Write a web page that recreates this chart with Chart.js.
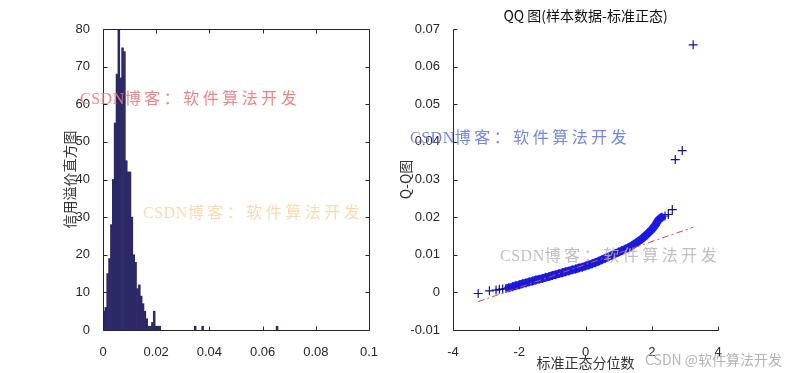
<!DOCTYPE html>
<html lang="zh">
<head>
  <meta charset="UTF-8">
  <title>信用溢价直方图 / QQ 图</title>
  <script src="https://cdn.jsdelivr.net/npm/chart.js"></script>
  <style>
    body { margin: 0; background: #fff; }
    .page { position: relative; width: 795px; height: 373px; overflow: hidden; background: #fff; }
    #histChart { position: absolute; left: 0; top: 0; }
    #qqChart { position: absolute; left: 390px; top: 0; }
    .mark {
      position: absolute;
      white-space: nowrap;
      font: 16px "Noto Sans CJK SC", serif;
      letter-spacing: 3.5px;
      line-height: 16px;
      pointer-events: none;
    }
    .mark span { font-family: "Liberation Serif", serif; letter-spacing: 0.5px; font-size: 16px; }
    .m1 { left: 80px; top: 89px; color: rgba(240, 120, 120, 0.9); }
    .m2 { left: 143px; top: 203px; color: rgba(250, 205, 150, 0.75); }
    .m3 { left: 410px; top: 128px; color: rgba(100, 120, 230, 0.9); }
    .m4 { left: 500px; top: 246px; color: rgba(180, 180, 180, 0.85); }
    .sign {
      position: absolute; left: 645px; top: 349px;
      font: 14px "Noto Sans CJK SC", sans-serif;
      color: #b4b4b4; white-space: nowrap;
    }
  </style>
</head>
<body>
<div class="page">
  <canvas id="histChart" width="390" height="373"></canvas>
  <canvas id="qqChart" width="405" height="373"></canvas>

  <div class="mark m1"><span>CSDN</span>博客：软件算法开发</div>
  <div class="mark m2"><span>CSDN</span>博客：软件算法开发</div>
  <div class="mark m3"><span>CSDN</span>博客：软件算法开发</div>
  <div class="mark m4"><span>CSDN</span>博客：软件算法开发</div>
  <div class="sign">CSDN @软件算法开发</div>
</div>

<script>
  // histogram (bin centres and counts)
  const histBins = [
    0.00035, 0.00105, 0.00175, 0.00245, 0.00315, 0.00385, 0.00455, 0.00525,
    0.00595, 0.00665, 0.00735, 0.00805, 0.00875, 0.00945, 0.01015, 0.01085,
    0.01155, 0.01225, 0.01295, 0.01365, 0.01435, 0.01505, 0.01575, 0.01645,
    0.01715, 0.01785, 0.01855, 0.01925, 0.01995, 0.02065, 0.02135,
    0.03465, 0.03745, 0.06545
  ];
  const histCounts = [
    5, 6, 15, 19, 28, 40, 55, 68,
    80, 67, 75, 74, 45, 42, 42, 30,
    20, 18, 11, 12, 9, 7, 5, 3,
    1, 1, 2, 5, 1, 1, 1,
    1, 1, 1
  ];

  // QQ plot: standard normal quantile vs sample quantile
  const qqTheory = [
    -3.24, -2.90, -2.70, -2.60, -2.50, -2.40, -2.32,
    -2.2, -2.1, -2.0, -1.9, -1.8, -1.7, -1.6, -1.5, -1.4, -1.3, -1.2, -1.1,
    -1.0, -0.9, -0.8, -0.7, -0.6, -0.5, -0.4, -0.3, -0.2, -0.1, 0.0,
    0.1, 0.2, 0.3, 0.4, 0.5, 0.6, 0.7, 0.8, 0.9, 1.0,
    1.1, 1.2, 1.3, 1.4, 1.5, 1.6, 1.7, 1.8, 1.9, 2.0, 2.1, 2.2,
    2.30, 2.40, 2.50, 2.62, 2.71, 2.92, 3.25
  ];
  const qqSample = [
    -0.0003, 0.0004, 0.0006, 0.0008, 0.0009, 0.0010, 0.0012,
    0.0015, 0.0018, 0.0020, 0.0023, 0.0025, 0.0028, 0.0030, 0.0033, 0.0035, 0.0037, 0.0040, 0.0042,
    0.0045, 0.0047, 0.0050, 0.0052, 0.0055, 0.0057, 0.0060, 0.0062, 0.0065, 0.0067, 0.0070,
    0.0073, 0.0076, 0.0079, 0.0083, 0.0087, 0.0091, 0.0095, 0.0099, 0.0103, 0.0107,
    0.0111, 0.0115, 0.0119, 0.0124, 0.0130, 0.0136, 0.0142, 0.0150, 0.0158, 0.0167, 0.0178, 0.0192,
    0.0200, 0.0203, 0.0207, 0.0220, 0.0353, 0.0377, 0.0658
  ];
  // the dense part of the sample (-2.3 .. 2.3) that merges into a solid ribbon
  const bandFrom = 6, bandTo = 53;

  // fitted reference line (end points)
  const refLineX = [-3.25, 3.25];
  const refLineY = [-0.0025, 0.0173];

  Chart.defaults.font.family = '"Liberation Sans", Arial, sans-serif';
  Chart.defaults.font.size = 13;
  Chart.defaults.color = '#262626';
  Chart.defaults.animation = false;

  const cjk = '"Noto Sans CJK SC", "Liberation Sans", sans-serif';
  const fmt = v => String(+Number(v).toFixed(4));
  const pts = (xs, ys) => xs.map((v, i) => ({ x: v, y: ys[i] }));

  // matlab-like axes: lines + ticks pointing inwards
  const innerTicks = {
    id: 'innerTicks',
    afterDatasetsDraw(chart, args, opts) {
      const { ctx, chartArea: a, scales: { x, y } } = chart;
      const len = 4;
      const px = v => Math.round(v) + 0.5;
      const L = px(a.left), R = px(a.right), T = px(a.top), B = px(a.bottom);
      ctx.save();
      ctx.strokeStyle = '#262626';
      ctx.lineWidth = 1;
      ctx.beginPath();
      ctx.moveTo(L, T); ctx.lineTo(L, B); ctx.lineTo(R, B);
      if (opts.box) { ctx.lineTo(R, T); ctx.lineTo(L, T); }
      x.ticks.forEach(t => {
        const p = px(x.getPixelForValue(t.value));
        ctx.moveTo(p, B); ctx.lineTo(p, B - len);
        if (opts.box) { ctx.moveTo(p, T); ctx.lineTo(p, T + len); }
      });
      y.ticks.forEach(t => {
        const p = px(y.getPixelForValue(t.value));
        ctx.moveTo(L, p); ctx.lineTo(L + len, p);
        if (opts.box) { ctx.moveTo(R, p); ctx.lineTo(R - len, p); }
      });
      ctx.stroke();
      ctx.restore();
    }
  };

  // left: histogram
  new Chart(document.getElementById('histChart'), {
    type: 'bar',
    data: {
      datasets: [{
        data: pts(histBins, histCounts),
        backgroundColor: '#2b2966',
        borderWidth: 0,
        barPercentage: 1,
        categoryPercentage: 1
      }]
    },
    options: {
      responsive: false,
      layout: { padding: { left: 61, right: 21, top: 29, bottom: 0 } },
      plugins: { legend: { display: false }, tooltip: { enabled: false }, innerTicks: { box: true } },
      scales: {
        x: {
          type: 'linear', min: 0, max: 0.1, offset: false,
          grid: { display: false }, border: { display: false },
          ticks: { stepSize: 0.02, padding: 7, maxRotation: 0, callback: fmt },
          afterFit: s => { s.height = 43; }
        },
        y: {
          min: 0, max: 80,
          grid: { display: false }, border: { display: false },
          ticks: { stepSize: 10, padding: 5 },
          title: { display: true, text: '信用溢价直方图', font: { family: cjk, size: 14 }, color: '#333', padding: 0 },
          afterFit: s => { s.width = 42; }
        }
      }
    },
    plugins: [innerTicks]
  });

  // right: QQ plot
  new Chart(document.getElementById('qqChart'), {
    type: 'scatter',
    data: {
      datasets: [
        {
          data: pts(refLineX, refLineY),
          showLine: true,
          borderColor: '#d05050',
          borderWidth: 1,
          borderDash: [7, 3, 2, 3],
          pointRadius: 0
        },
        {
          data: pts(qqTheory.slice(bandFrom, bandTo), qqSample.slice(bandFrom, bandTo)),
          showLine: true,
          borderColor: '#1c1ce6',
          borderWidth: 8,
          borderCapStyle: 'round',
          pointStyle: 'cross',
          pointRadius: 4.5,
          pointBorderColor: '#1818d8',
          pointBorderWidth: 1.2
        },
        {
          data: pts(qqTheory, qqSample).filter((p, i) => i < bandFrom || i >= bandTo),
          pointStyle: 'cross',
          pointRadius: 4.5,
          borderColor: '#10109a',
          borderWidth: 1.2
        }
      ]
    },
    options: {
      responsive: false,
      layout: { padding: { left: 7, right: 77, top: 0, bottom: 0 } },
      plugins: {
        legend: { display: false },
        tooltip: { enabled: false },
        title: {
          display: true, fullSize: false,
          text: 'QQ 图(样本数据-标准正态)',
          font: { family: cjk, size: 14, weight: 'normal' },
          color: '#111',
          padding: { top: 7, bottom: 5.2 }
        },
        innerTicks: { box: false }
      },
      scales: {
        x: {
          min: -4, max: 4,
          grid: { display: false }, border: { display: false },
          ticks: { stepSize: 2, padding: 7, maxRotation: 0 },
          title: { display: true, text: '标准正态分位数', font: { family: cjk, size: 14 }, color: '#333', padding: { top: 0, bottom: 2 } },
          afterFit: s => { s.height = 43; }
        },
        y: {
          min: -0.01, max: 0.07,
          grid: { display: false }, border: { display: false },
          ticks: { stepSize: 0.01, padding: 5, callback: fmt },
          title: { display: true, text: 'Q-Q图', font: { family: cjk, size: 14 }, color: '#333', padding: 0 },
          afterFit: s => { s.width = 56; }
        }
      }
    },
    plugins: [innerTicks]
  });
</script>
</body>
</html>
